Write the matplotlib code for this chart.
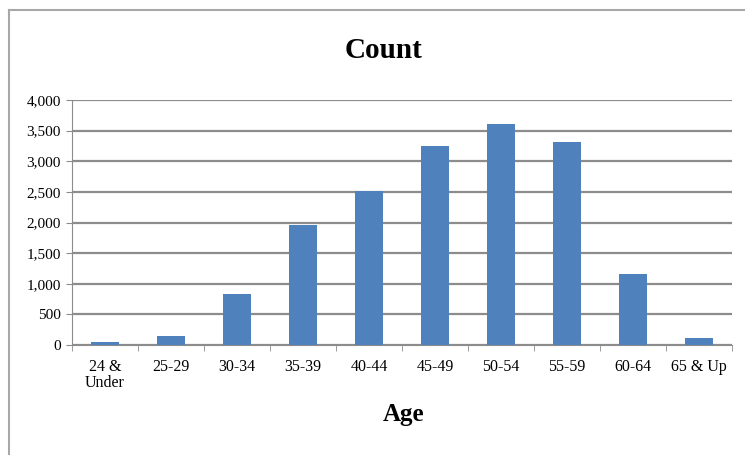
import matplotlib
matplotlib.use("Agg")
import matplotlib.pyplot as plt
from matplotlib.lines import Line2D
import numpy as np

# age groups and counts
ages = ["24 &\nUnder", "25-29", "30-34", "35-39", "40-44", "45-49",
        "50-54", "55-59", "60-64", "65 & Up"]
counts = [45, 150, 830, 1955, 2510, 3255, 3610, 3310, 1160, 110]
yticks = [0, 500, 1000, 1500, 2000, 2500, 3000, 3500, 4000]

plt.rcParams['font.family'] = ['Liberation Serif', 'DejaVu Serif']

fig = plt.figure(figsize=(7.45, 4.55), dpi=100)
ax = fig.add_axes([72/745, 1-345/455, 660/745, 245/455])

x = np.arange(len(ages))
ax.bar(x, counts, width=0.42, color='#4F81BD', zorder=3)

ax.set_xlim(-0.5, len(ages) - 0.5)
ax.set_ylim(0, 4000)
ax.set_yticks(yticks)
ax.set_yticklabels([f"{v:,}" for v in yticks])
ax.yaxis.grid(True, color='#8C8C8C', linewidth=1.6, zorder=0)

ax.set_xticks(x)
ax.set_xticklabels(ages, linespacing=1.05)
ax.set_xticks(np.arange(-0.5, len(ages)), minor=True)
ax.tick_params(axis='x', which='major', length=0, pad=10, labelsize=11.5)
ax.tick_params(axis='x', which='minor', length=4, color='#8C8C8C')
ax.tick_params(axis='y', length=4, color='#8C8C8C', labelsize=11, pad=4)

for s in ['top', 'right']:
    ax.spines[s].set_visible(False)
ax.spines['left'].set_color('#8C8C8C')
ax.spines['bottom'].set_color('#8C8C8C')

fig.text(383/745, 1-50/455, "Count", ha='center', va='center',
         fontsize=21, fontweight='bold')
fig.text(404/745, 1-415/455, "Age", ha='center', va='center',
         fontsize=18, fontweight='bold')

# chart frame (only top and left edges show)
fig.add_artist(Line2D([9/745, 1.0], [1-10/455, 1-10/455], color='#A8A8A8', lw=1.5))
fig.add_artist(Line2D([9/745, 9/745], [0, 1-10/455], color='#A8A8A8', lw=1.5))

fig.savefig("out.png", dpi=100)
